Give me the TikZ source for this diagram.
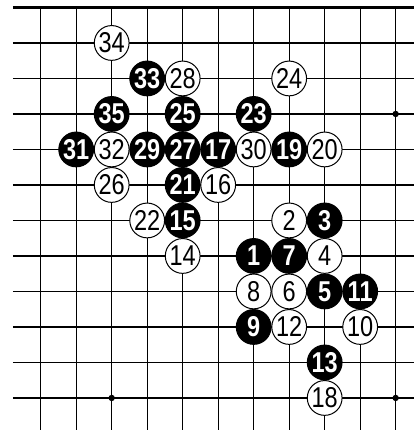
\documentclass[tikz,border=0pt]{standalone}
\usepackage{fontspec}
\newfontfamily\stonefont[FakeStretch=0.82]{Liberation Sans}
\begin{document}
\begin{tikzpicture}[x=1cm, y=1cm,
  wstone/.style={circle, draw, fill=white, line width=0.8pt, minimum size=9.8mm, inner sep=0pt, font=\stonefont\fontsize{23}{23}\selectfont},
  bstone/.style={wstone, fill=black, text=white, font=\stonefont\bfseries\fontsize{23}{23}\selectfont},
  grid line/.style={line width=0.9pt},
  hoshi/.style={circle, fill=black, inner sep=0pt, minimum size=1.8mm}]
  \useasboundingbox (-1.146,0.21) rectangle (10.52,-12.1);
  % Board lines
  \foreach \c in {0,...,10}
    \draw[grid line] (\c,0) -- (\c,-11.9);
  \foreach \r in {1,...,11}
    \draw[grid line] (-0.78,-\r) -- (10.52,-\r);
  \draw[line width=2.4pt] (-0.78,0) -- (10.52,0);
  % Star points
  \node[hoshi] (h1) at (10,-3) {};
  \node[hoshi] (h2) at (2,-11) {};
  \node[hoshi] (h3) at (10,-11) {};
  % Black stones
  \node[bstone] (m1) at (6,-7) {1};
  \node[bstone] (m3) at (8,-6) {3};
  \node[bstone] (m5) at (8,-8) {5};
  \node[bstone] (m7) at (7,-7) {7};
  \node[bstone] (m9) at (6,-9) {9};
  \node[bstone] (m11) at (9,-8) {11};
  \node[bstone] (m13) at (8,-10) {13};
  \node[bstone] (m15) at (4,-6) {15};
  \node[bstone] (m17) at (5,-4) {17};
  \node[bstone] (m19) at (7,-4) {19};
  \node[bstone] (m21) at (4,-5) {21};
  \node[bstone] (m23) at (6,-3) {23};
  \node[bstone] (m25) at (4,-3) {25};
  \node[bstone] (m27) at (4,-4) {27};
  \node[bstone] (m29) at (3,-4) {29};
  \node[bstone] (m31) at (1,-4) {31};
  \node[bstone] (m33) at (3,-2) {33};
  \node[bstone] (m35) at (2,-3) {35};
  % White stones
  \node[wstone] (m2) at (7,-6) {2};
  \node[wstone] (m4) at (8,-7) {4};
  \node[wstone] (m6) at (7,-8) {6};
  \node[wstone] (m8) at (6,-8) {8};
  \node[wstone] (m10) at (9,-9) {10};
  \node[wstone] (m12) at (7,-9) {12};
  \node[wstone] (m14) at (4,-7) {14};
  \node[wstone] (m16) at (5,-5) {16};
  \node[wstone] (m18) at (8,-11) {18};
  \node[wstone] (m20) at (8,-4) {20};
  \node[wstone] (m22) at (3,-6) {22};
  \node[wstone] (m24) at (7,-2) {24};
  \node[wstone] (m26) at (2,-5) {26};
  \node[wstone] (m28) at (4,-2) {28};
  \node[wstone] (m30) at (6,-4) {30};
  \node[wstone] (m32) at (2,-4) {32};
  \node[wstone] (m34) at (2,-1) {34};
\end{tikzpicture}
\end{document}
